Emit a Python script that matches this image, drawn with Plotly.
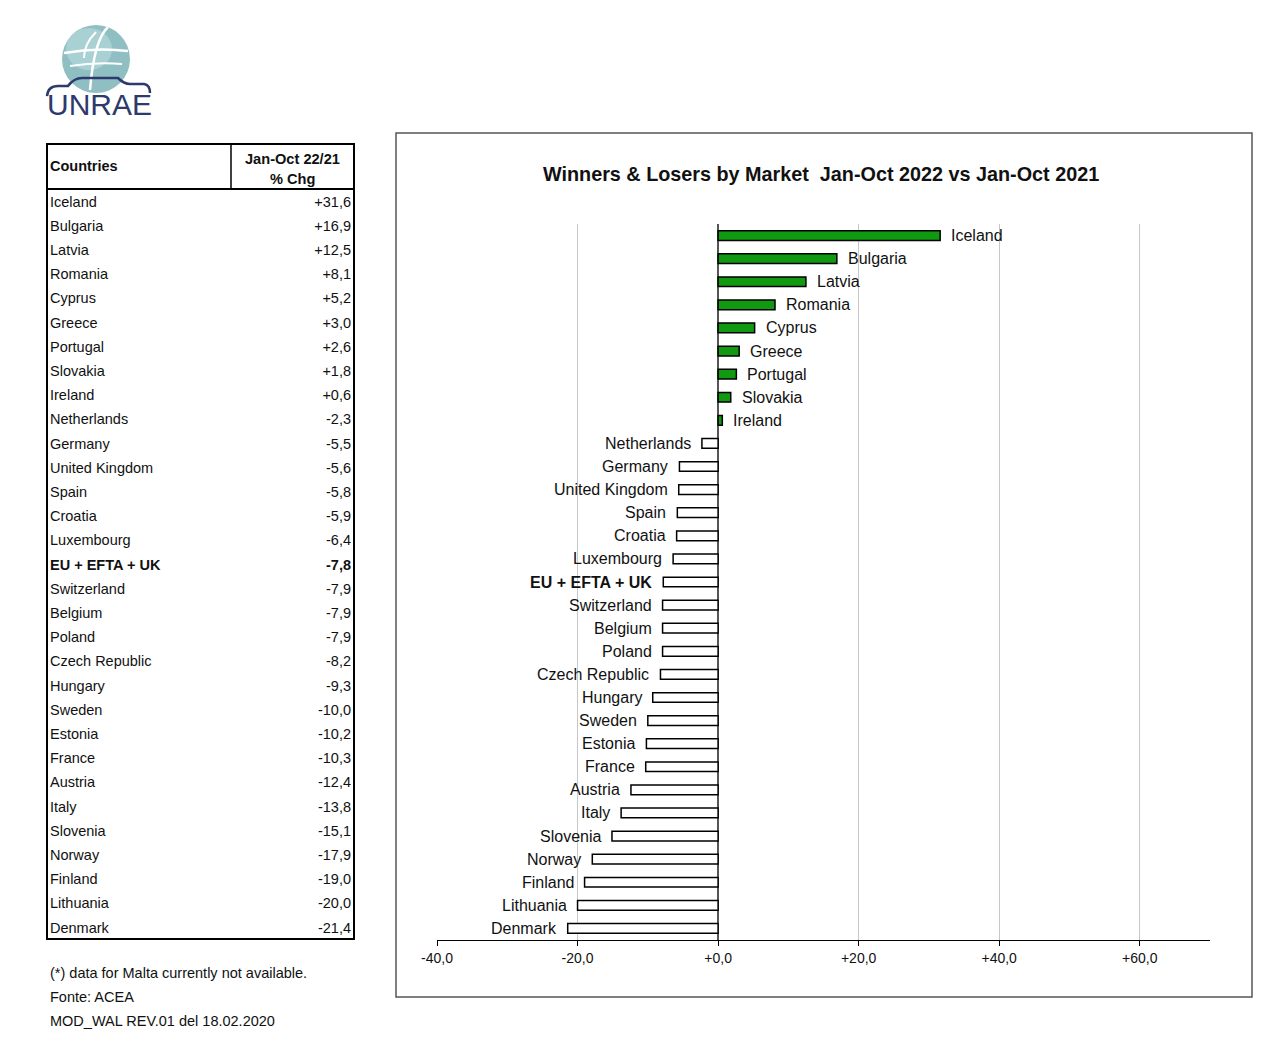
import plotly.graph_objects as go

W, H = 1268, 1040
OFF = 8  # page body margin

countries = ["Iceland", "Bulgaria", "Latvia", "Romania", "Cyprus", "Greece", "Portugal",
             "Slovakia", "Ireland", "Netherlands", "Germany", "United Kingdom", "Spain",
             "Croatia", "Luxembourg", "EU + EFTA + UK", "Switzerland", "Belgium", "Poland",
             "Czech Republic", "Hungary", "Sweden", "Estonia", "France", "Austria", "Italy",
             "Slovenia", "Norway", "Finland", "Lithuania", "Denmark"]
pct_chg = [31.6, 16.9, 12.5, 8.1, 5.2, 3.0, 2.6, 1.8, 0.6, -2.3, -5.5, -5.6, -5.8, -5.9,
           -6.4, -7.8, -7.9, -7.9, -7.9, -8.2, -9.3, -10.0, -10.2, -10.3, -12.4, -13.8,
           -15.1, -17.9, -19.0, -20.0, -21.4]
highlight = "EU + EFTA + UK"

tick_vals = [-40, -20, 0, 20, 40, 60]
tick_text = ["-40,0", "-20,0", "+0,0", "+20,0", "+40,0", "+60,0"]

title_text = "Winners & Losers by Market  Jan-Oct 2022 vs Jan-Oct 2021"
table_head = ["Countries", "Jan-Oct 22/21", "% Chg"]
footnotes = ["(*) data for Malta currently not available.", "Fonte: ACEA",
             "MOD_WAL REV.01 del 18.02.2020"]

FONT = "Liberation Sans, Arial, sans-serif"


def px(x):
    return (x - OFF) / W


def py(y):
    return 1 - (y - OFF) / H


def fmt(v):
    return f"{v:+.1f}".replace(".", ",")


def path(cmds):
    out = []
    for tok in cmds.split():
        if "," in tok:
            a, b = tok.split(",")
            out.append(f"{px(float(a)):.5f},{py(float(b)):.5f}")
        else:
            out.append(tok)
    return " ".join(out)


fig = go.Figure()

# ---- main bar chart ----
colors = ["#119a11" if v > 0 else "white" for v in pct_chg]
fig.add_trace(go.Bar(
    x=pct_chg, y=countries, orientation="h",
    marker=dict(color=colors, line=dict(color="black", width=1.5)),
    width=0.42, hoverinfo="skip", showlegend=False,
    xaxis="x", yaxis="y",
))

annotations = []
for c, v in zip(countries, pct_chg):
    label = f"<b>{c}</b>" if c == highlight else c
    annotations.append(dict(
        x=v, y=c, xref="x", yref="y", text=label, showarrow=False,
        xanchor="left" if v > 0 else "right", xshift=9 if v > 0 else -9,
        font=dict(size=16, color="#111", family=FONT),
    ))

# ---- table as text on hidden axes ----
row_names = [f"<b>{c}</b>" if c == highlight else c for c in countries]
row_vals = [f"<b>{fmt(v)}</b>" if c == highlight else fmt(v) for c, v in zip(countries, pct_chg)]
fig.add_trace(go.Scatter(
    x=[3] * len(countries), y=countries, text=row_names, mode="text",
    textposition="middle right", textfont=dict(size=14.5, color="#111", family=FONT),
    hoverinfo="skip", showlegend=False, xaxis="x2", yaxis="y2",
))
fig.add_trace(go.Scatter(
    x=[304] * len(countries), y=countries, text=row_vals, mode="text",
    textposition="middle left", textfont=dict(size=14.5, color="#111", family=FONT),
    hoverinfo="skip", showlegend=False, xaxis="x2", yaxis="y2",
))

# table header
annotations += [
    dict(x=px(48), y=py(166), xref="paper", yref="paper", text=f"<b>{table_head[0]}</b>",
         showarrow=False, xanchor="left", yanchor="middle",
         font=dict(size=14.5, color="#111", family=FONT)),
    dict(x=px(292), y=py(159), xref="paper", yref="paper", text=f"<b>{table_head[1]}</b>",
         showarrow=False, xanchor="center", yanchor="middle",
         font=dict(size=14.6, color="#111", family=FONT)),
    dict(x=px(292), y=py(179), xref="paper", yref="paper", text=f"<b>{table_head[2]}</b>",
         showarrow=False, xanchor="center", yanchor="middle",
         font=dict(size=14.6, color="#111", family=FONT)),
]

# title
annotations.append(dict(x=px(821), y=py(174), xref="paper", yref="paper",
                        text=f"<b>{title_text}</b>", showarrow=False,
                        xanchor="center", yanchor="middle",
                        font=dict(size=19.8, color="#111", family=FONT)))

# footnotes
for i, t in enumerate(footnotes):
    annotations.append(dict(x=px(48), y=py(973 + 24 * i), xref="paper", yref="paper",
                            text=t, showarrow=False, xanchor="left", yanchor="middle",
                            font=dict(size=14.5, color="#111", family=FONT)))

# logo text
annotations.append(dict(x=px(99), y=py(104), xref="paper", yref="paper", text="UNRAE",
                        showarrow=False, xanchor="center", yanchor="middle",
                        font=dict(size=30, color="#2d3a6c", family=FONT)))

shapes = [
    # chart frame
    dict(type="rect", xref="paper", yref="paper", x0=px(396), x1=px(1252),
         y0=py(997), y1=py(133), line=dict(color="#555", width=1.5)),
    # table frame
    dict(type="rect", xref="paper", yref="paper", x0=px(47), x1=px(354),
         y0=py(939), y1=py(144), line=dict(color="black", width=2)),
    dict(type="line", xref="paper", yref="paper", x0=px(47), x1=px(354),
         y0=py(189), y1=py(189), line=dict(color="black", width=2)),
    dict(type="line", xref="paper", yref="paper", x0=px(231), x1=px(231),
         y0=py(144), y1=py(189), line=dict(color="black", width=1.5)),
    # logo globe
    dict(type="circle", xref="paper", yref="paper", x0=px(62), x1=px(130),
         y0=py(93), y1=py(25), line=dict(width=0), fillcolor="#8fbfc3", layer="below"),
    dict(type="circle", xref="paper", yref="paper", x0=px(66), x1=px(112),
         y0=py(70), y1=py(28), line=dict(width=0), fillcolor="#a9d0d3", layer="below"),
    dict(type="path", xref="paper", yref="paper",
         path=path("M 108,27 Q 94,40 90,90"), line=dict(color="white", width=2.5)),
    dict(type="path", xref="paper", yref="paper",
         path=path("M 64,53 Q 96,47 128,51"), line=dict(color="white", width=2.5)),
    dict(type="path", xref="paper", yref="paper",
         path=path("M 70,66 Q 96,62 122,64"), line=dict(color="white", width=2)),
    dict(type="path", xref="paper", yref="paper",
         path=path("M 96,32 Q 84,44 84,58"), line=dict(color="white", width=2)),
    # logo car roof
    dict(type="path", xref="paper", yref="paper",
         path=path("M 47,96 Q 48,86 58,86 L 68,86 Q 74,78 82,78 L 118,78 Q 124,84 130,84 L 144,84 Q 150,85 150,93"),
         line=dict(color="#2d3a6c", width=2.5)),
]

fig.update_layout(
    width=W, height=H,
    margin=dict(l=0, r=0, t=0, b=0, pad=0, autoexpand=False),
    paper_bgcolor="white", plot_bgcolor="white",
    font=dict(family=FONT, color="#111"),
    xaxis=dict(domain=[px(437), px(1210)], range=[-40, 70], automargin=False,
               tickvals=tick_vals, ticktext=tick_text, tickfont=dict(size=14, family=FONT),
               showgrid=True, gridcolor="#c8c8c8", gridwidth=1,
               zeroline=True, zerolinecolor="#555", zerolinewidth=1.5,
               showline=True, linecolor="black", linewidth=1.2,
               ticks="outside", ticklen=5, tickcolor="black", fixedrange=True),
    yaxis=dict(domain=[py(940), py(224)], range=[30.5, -0.5], type="category",
               automargin=False, showticklabels=False, showgrid=False, zeroline=False,
               showline=False, ticks="", fixedrange=True),
    xaxis2=dict(domain=[px(47), px(354)], range=[0, 307], visible=False, automargin=False,
                anchor="y2", fixedrange=True),
    yaxis2=dict(domain=[py(941), py(191)], range=[30.5, -0.5], type="category",
                visible=False, automargin=False, anchor="x2", fixedrange=True),
    annotations=annotations,
    shapes=shapes,
)

fig.write_html("out.html")
